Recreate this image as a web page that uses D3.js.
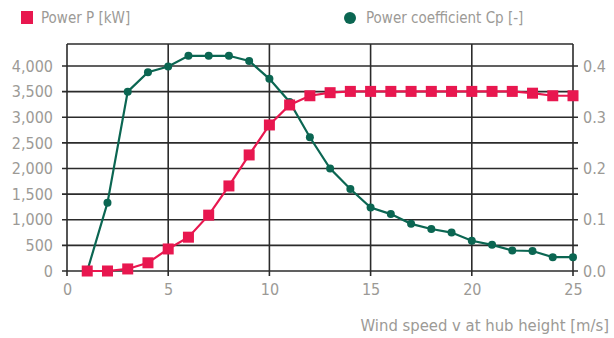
<!DOCTYPE html>
<html>
<head>
<meta charset="utf-8">
<script src="https://cdn.jsdelivr.net/npm/d3@7"></script>
<style>
  body { margin: 0; background: #fff; }
  svg text { font-family: "DejaVu Sans Condensed", "Liberation Sans Narrow", sans-serif; }
</style>
</head>
<body>
<svg id="chart" width="614" height="338"></svg>
<script>
const windSpeed = [1, 2, 3, 4, 5, 6, 7, 8, 9, 10, 11, 12, 13, 14, 15, 16, 17, 18, 19, 20, 21, 22, 23, 24, 25];
const powerKW = [0, 0, 40, 160, 430, 660, 1090, 1660, 2265, 2850, 3240, 3420, 3480, 3505, 3505, 3505, 3505, 3505, 3505, 3505, 3505, 3505, 3470, 3420, 3420];
const cp = [0.0, 0.133, 0.35, 0.388, 0.399, 0.42, 0.42, 0.42, 0.41, 0.375, 0.33, 0.261, 0.20, 0.16, 0.124, 0.111, 0.092, 0.082, 0.075, 0.059, 0.051, 0.040, 0.039, 0.027, 0.027];
const xTicks = [0, 5, 10, 15, 20, 25];
const powerTicks = [0, 500, 1000, 1500, 2000, 2500, 3000, 3500, 4000];
const cpTicks = [0, 0.1, 0.2, 0.3, 0.4];

const pink = "#e8174f", green = "#0b6652", labelColor = "#9c9a96";
const plotL = 67, plotR = 573, plotT = 44, plotB = 271;

const svg = d3.select("#chart");
const x = d3.scaleLinear().domain([0, 25]).range([plotL, plotR]);
const yP = d3.scaleLinear().domain([0, 4430]).range([plotB, plotT]);
const yC = d3.scaleLinear().domain([0, 0.443]).range([plotB, plotT]);

// grid
const grid = svg.append("g").attr("stroke", "#2b2b2b").attr("stroke-width", 1.6);
grid.selectAll(".h").data(powerTicks).enter().append("line")
  .attr("x1", plotL - 5).attr("x2", plotR + 5)
  .attr("y1", d => yP(d)).attr("y2", d => yP(d));
grid.append("line").attr("x1", plotL).attr("x2", plotR).attr("y1", plotT).attr("y2", plotT);
grid.selectAll(".v").data(xTicks).enter().append("line")
  .attr("x1", d => x(d)).attr("x2", d => x(d))
  .attr("y1", plotT).attr("y2", plotB + 5);

// axes labels
const xAxis = d3.axisBottom(x).tickValues(xTicks).tickSize(0).tickPadding(13);
const gx = svg.append("g").attr("transform", `translate(0,${plotB})`).call(xAxis);
const yAxisL = d3.axisLeft(yP).tickValues(powerTicks).tickSize(0).tickPadding(14).tickFormat(d3.format(","));
const gl = svg.append("g").attr("transform", `translate(${plotL},0)`).call(yAxisL);
const yAxisR = d3.axisRight(yC).tickValues(cpTicks).tickSize(0).tickPadding(10).tickFormat(d3.format(".1f"));
const gr = svg.append("g").attr("transform", `translate(${plotR},0)`).call(yAxisR);
[gx, gl, gr].forEach(g => {
  g.select(".domain").remove();
  g.selectAll("text").attr("fill", labelColor).style("font-size", "16px");
});

svg.append("text")
  .attr("x", 609).attr("y", 331)
  .attr("text-anchor", "end")
  .attr("fill", labelColor)
  .style("font-size", "16.5px")
  .text("Wind speed v at hub height [m/s]");

const pData = windSpeed.map((v, i) => ({ v, p: powerKW[i] }));
const cData = windSpeed.map((v, i) => ({ v, c: cp[i] }));

// Cp line
svg.append("path").datum(cData)
  .attr("fill", "none").attr("stroke", green).attr("stroke-width", 2.2)
  .attr("d", d3.line().x(d => x(d.v)).y(d => yC(d.c)));
svg.selectAll(".cp").data(cData).enter().append("circle")
  .attr("cx", d => x(d.v)).attr("cy", d => yC(d.c)).attr("r", 4)
  .attr("fill", green);

// power line
svg.append("path").datum(pData)
  .attr("fill", "none").attr("stroke", pink).attr("stroke-width", 2.2)
  .attr("d", d3.line().x(d => x(d.v)).y(d => yP(d.p)));
svg.selectAll(".pw").data(pData).enter().append("rect")
  .attr("x", d => x(d.v) - 5.5).attr("y", d => yP(d.p) - 5.5)
  .attr("width", 11).attr("height", 11)
  .attr("fill", pink);

// legend
svg.append("rect").attr("x", 21).attr("y", 11).attr("width", 12).attr("height", 13).attr("fill", pink);
svg.append("text").attr("x", 41).attr("y", 23).attr("fill", labelColor).style("font-size", "15px").text("Power P [kW]");
svg.append("circle").attr("cx", 350).attr("cy", 18).attr("r", 6).attr("fill", green);
svg.append("text").attr("x", 366).attr("y", 23).attr("fill", labelColor).style("font-size", "15px").text("Power coefficient Cp [-]");
</script>
</body>
</html>
